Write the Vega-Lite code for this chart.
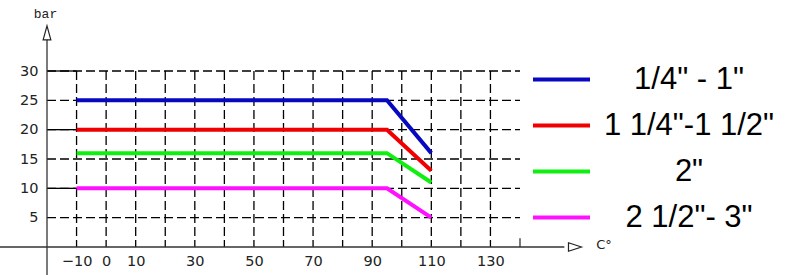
{
  "$schema": "https://vega.github.io/schema/vega-lite/v6.json",
  "width": 473,
  "height": 176,
  "autosize": {"type": "none"},
  "padding": {"left": 47, "top": 71, "right": 280, "bottom": 28},
  "background": "white",
  "config": {"view": {"stroke": null}, "font": "DejaVu Sans", "axis": {"labelOverlap": false, "labelFontSize": 14.5, "labelColor": "#222", "labelFont": "DejaVu Sans", "domain": false, "ticks": false, "grid": false, "title": null}},
  "datasets": {
    "series": [
      {"t": -10, "p": 25, "size": "1/4\" - 1\""},
      {"t": 95, "p": 25, "size": "1/4\" - 1\""},
      {"t": 110, "p": 16, "size": "1/4\" - 1\""},
      {"t": -10, "p": 20, "size": "1 1/4\"-1 1/2\""},
      {"t": 95, "p": 20, "size": "1 1/4\"-1 1/2\""},
      {"t": 110, "p": 13, "size": "1 1/4\"-1 1/2\""},
      {"t": -10, "p": 16, "size": "2\""},
      {"t": 95, "p": 16, "size": "2\""},
      {"t": 110, "p": 11, "size": "2\""},
      {"t": -10, "p": 10, "size": "2 1/2\"- 3\""},
      {"t": 95, "p": 10, "size": "2 1/2\"- 3\""},
      {"t": 110, "p": 5, "size": "2 1/2\"- 3\""}
    ],
    "vgrid": [{"t": -10}, {"t": 0}, {"t": 10}, {"t": 20}, {"t": 30}, {"t": 40}, {"t": 50}, {"t": 60}, {"t": 70}, {"t": 80}, {"t": 90}, {"t": 100}, {"t": 110}, {"t": 120}, {"t": 130}],
    "hgrid": [{"p": 5}, {"p": 10}, {"p": 15}, {"p": 20}, {"p": 25}, {"p": 30}],
    "hsolid": [{"p": 10}, {"p": 20}, {"p": 30}]
  },
  "layer": [
    {
      "data": {"name": "hgrid"},
      "mark": {"type": "rule", "color": "black", "strokeWidth": 1.3, "strokeDash": [9, 4]},
      "encoding": {
        "y": {"field": "p", "type": "quantitative", "scale": {"domain": [0, 30], "nice": false},
          "axis": {"tickCount": 6, "labelExpr": "datum.value == 0 ? '' : datum.label", "labelPadding": 9, "labelOverlap": false}},
        "x": {"datum": -20, "type": "quantitative", "scale": {"domain": [-20, 140], "nice": false, "zero": false},
          "axis": {"values": [-10, 0, 10, 30, 50, 70, 90, 110, 130], "labelPadding": 7, "labelOverlap": false}},
        "x2": {"datum": 140}
      }
    },
    {
      "data": {"name": "vgrid"},
      "mark": {"type": "rule", "color": "black", "strokeWidth": 1.3, "strokeDash": [9, 4]},
      "encoding": {
        "x": {"field": "t", "type": "quantitative"},
        "y": {"datum": 30, "type": "quantitative"},
        "y2": {"datum": 0}
      }
    },
    {
      "data": {"name": "hsolid"},
      "mark": {"type": "rule", "color": "black", "strokeWidth": 1.3},
      "encoding": {
        "y": {"field": "p", "type": "quantitative"},
        "x": {"datum": -20, "type": "quantitative"},
        "x2": {"datum": -10}
      }
    },
    {
      "data": {"values": [{"a": 0}]},
      "mark": {"type": "rule", "color": "#333", "strokeWidth": 1.3},
      "encoding": {
        "y": {"datum": 0, "type": "quantitative"},
        "x": {"datum": -36, "type": "quantitative"},
        "x2": {"datum": 155}
      }
    },
    {
      "data": {"values": [{"a": 0}]},
      "mark": {"type": "rule", "color": "#333", "strokeWidth": 1.3},
      "encoding": {
        "x": {"datum": -20, "type": "quantitative"},
        "y": {"datum": -4.8, "type": "quantitative"},
        "y2": {"datum": 36.5}
      }
    },
    {
      "data": {"values": [{"a": 0}]},
      "mark": {"type": "rule", "color": "#333", "strokeWidth": 1.3},
      "encoding": {
        "x": {"datum": 140, "type": "quantitative"},
        "y": {"datum": 0, "type": "quantitative"},
        "y2": {"datum": 1.5}
      }
    },
    {
      "data": {"values": [{"a": 0}]},
      "mark": {"type": "point", "shape": "M0,-1L0.55,1L-0.55,1Z", "size": 196, "filled": true, "fill": "white", "stroke": "#222", "strokeWidth": 1.2, "opacity": 1},
      "encoding": {
        "x": {"datum": -20, "type": "quantitative"},
        "y": {"datum": 36.5, "type": "quantitative"}
      }
    },
    {
      "data": {"values": [{"a": 0}]},
      "mark": {"type": "point", "shape": "M1,0L-1,-0.65L-1,0.65Z", "size": 169, "filled": true, "fill": "white", "stroke": "#222", "strokeWidth": 1.2, "opacity": 1},
      "encoding": {
        "x": {"datum": 158.6, "type": "quantitative"},
        "y": {"datum": 0, "type": "quantitative"}
      }
    },
    {
      "data": {"values": [{"label": "bar"}]},
      "mark": {"type": "text", "font": "Liberation Mono", "fontSize": 13, "color": "#222"},
      "encoding": {
        "text": {"field": "label"},
        "x": {"datum": -20.5, "type": "quantitative"},
        "y": {"datum": 39.7, "type": "quantitative"}
      }
    },
    {
      "data": {"values": [{"label": "C°"}]},
      "mark": {"type": "text", "font": "DejaVu Sans", "fontSize": 13, "color": "#222"},
      "encoding": {
        "text": {"field": "label"},
        "x": {"datum": 168.4, "type": "quantitative"},
        "y": {"datum": 0.3, "type": "quantitative"}
      }
    },
    {
      "data": {"name": "series"},
      "mark": {"type": "line", "strokeWidth": 4},
      "encoding": {
        "x": {"field": "t", "type": "quantitative"},
        "y": {"field": "p", "type": "quantitative"},
        "color": {
          "field": "size", "type": "nominal",
          "scale": {"domain": ["1/4\" - 1\"", "1 1/4\"-1 1/2\"", "2\"", "2 1/2\"- 3\""], "range": ["#0808c0", "#f00000", "#10f010", "#ff10ff"]},
          "legend": {"orient": "none", "legendX": 484, "legendY": -22, "title": null, "symbolType": "stroke", "symbolSize": 3249, "symbolStrokeWidth": 4, "labelFont": "Liberation Sans", "labelFontSize": 31, "labelColor": "black", "labelAlign": "center", "labelOffset": 97, "labelLimit": 400, "rowPadding": -1}
        }
      }
    }
  ]
}
